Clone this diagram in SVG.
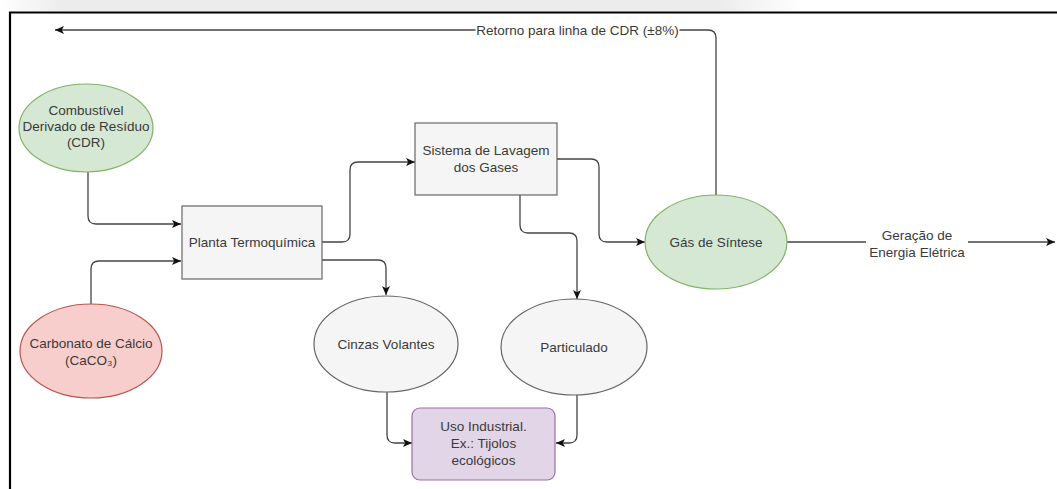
<svg xmlns="http://www.w3.org/2000/svg" width="1057" height="489" viewBox="0 0 1057 489">
<defs>
<linearGradient id="shadow" x1="0" y1="0" x2="1" y2="0">
<stop offset="0" stop-color="#ffffff"/>
<stop offset="0.06" stop-color="#ececec"/>
<stop offset="0.68" stop-color="#ececec"/>
<stop offset="0.76" stop-color="#ffffff"/>
</linearGradient>
<marker id="arr" markerUnits="userSpaceOnUse" markerWidth="10" markerHeight="9" refX="9" refY="4.5" orient="auto">
<path d="M0,0.5 L9,4.5 L0,8.5 L2.2,4.5 z" fill="#111"/>
</marker>
<style>
.t{font-family:"Liberation Sans",Arial,sans-serif;font-size:13.5px;fill:#3a3a3a;text-anchor:middle;dominant-baseline:central}
.c{fill:none;stroke:#444;stroke-width:1.3;marker-end:url(#arr)}
.gray{fill:#f5f5f5;stroke:#666;stroke-width:1.2}
.green{fill:#d5e8d4;stroke:#82b366;stroke-width:1.2}
.red{fill:#f8cecc;stroke:#b85450;stroke-width:1.2}
.purple{fill:#e1d5e7;stroke:#9673a6;stroke-width:1.2}
</style>
</defs>
<rect x="0" y="0" width="1057" height="489" fill="#ffffff"/>
<rect x="0" y="0" width="1057" height="11" fill="url(#shadow)"/>
<path d="M10 489 V12.5 H1057" fill="none" stroke="#000" stroke-width="2.2"/>

<g id="connectors">
<path class="c" d="M88 172 V216 Q88 224 96 224 H181"/>
<path class="c" d="M91 304 V269 Q91 261 99 261 H181"/>
<path class="c" d="M322 242 H342 Q350 242 350 234 V170 Q350 162 358 162 H415"/>
<path class="c" d="M322 260 H378 Q386 260 386 268 V295"/>
<path class="c" d="M557 159 H591 Q599 159 599 167 V234 Q599 242 607 242 H645"/>
<path class="c" d="M520 195 V225 Q520 233 528 233 H569 Q577 233 577 241 V299"/>
<path class="c" d="M387 392 V435 Q387 443 395 443 H412"/>
<path class="c" d="M577 395 V435 Q577 443 569 443 H556"/>
<path class="c" d="M787 242 H1055"/>
<path class="c" d="M716 195 V38 Q716 30 708 30 H55"/>
<rect x="475.5" y="22" width="204" height="17" fill="#fff"/>
<text class="t" x="577.5" y="30">Retorno para linha de CDR (±8%)</text>
<rect x="866" y="226" width="102" height="36" fill="#fff"/>
<text class="t" x="917" y="235">Geração de</text>
<text class="t" x="917" y="252">Energia Elétrica</text>
</g>

<g id="cdr">
<ellipse class="green" cx="86" cy="128" rx="67" ry="44"/>
<text class="t" x="86" y="110">Combustível</text>
<text class="t" x="86" y="126">Derivado de Resíduo</text>
<text class="t" x="86" y="142">(CDR)</text>
</g>

<g id="carbonato">
<ellipse class="red" cx="91" cy="351" rx="71" ry="47"/>
<text class="t" x="91" y="343">Carbonato de Cálcio</text>
<text class="t" x="91" y="360">(CaCO₃)</text>
</g>

<g id="planta">
<rect class="gray" x="182" y="206" width="140" height="73"/>
<text class="t" x="252" y="242">Planta Termoquímica</text>
</g>

<g id="sistema">
<rect class="gray" x="415" y="123" width="142" height="72"/>
<text class="t" x="486" y="150">Sistema de Lavagem</text>
<text class="t" x="486" y="167">dos Gases</text>
</g>

<g id="gas">
<ellipse class="green" cx="716" cy="242" rx="71" ry="47"/>
<text class="t" x="716" y="242">Gás de Síntese</text>
</g>

<g id="cinzas">
<ellipse class="gray" cx="386" cy="344" rx="72" ry="48"/>
<text class="t" x="386" y="344">Cinzas Volantes</text>
</g>

<g id="particulado">
<ellipse class="gray" cx="574" cy="347" rx="73" ry="48"/>
<text class="t" x="574" y="347">Particulado</text>
</g>

<g id="uso">
<rect class="purple" x="412" y="408" width="143" height="72" rx="8" ry="8"/>
<text class="t" x="483.5" y="426">Uso Industrial.</text>
<text class="t" x="483.5" y="443">Ex.: Tijolos</text>
<text class="t" x="483.5" y="460">ecológicos</text>
</g>
</svg>
